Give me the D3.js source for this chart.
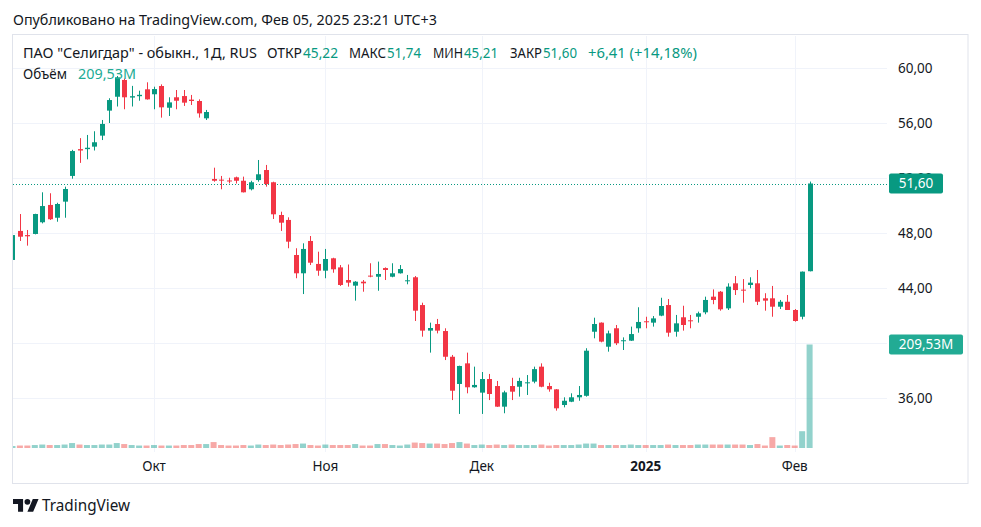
<!DOCTYPE html>
<html><head><meta charset="utf-8">
<script src="https://cdn.jsdelivr.net/npm/d3@7"></script>
<style>html,body{margin:0;padding:0;background:#fff;}svg{display:block;font-family:"Noto Sans",Roboto,sans-serif;}</style>
</head><body><svg id="c" width="981" height="527"></svg>
<script>
const dates = [
"2024-09-04","2024-09-05","2024-09-06","2024-09-09","2024-09-10","2024-09-11","2024-09-12","2024-09-13","2024-09-16","2024-09-17",
"2024-09-18","2024-09-19","2024-09-20","2024-09-23","2024-09-24","2024-09-25","2024-09-26","2024-09-27","2024-09-30",
"2024-10-01","2024-10-02","2024-10-03","2024-10-04","2024-10-07","2024-10-08","2024-10-09","2024-10-10","2024-10-11","2024-10-14",
"2024-10-15","2024-10-16","2024-10-17","2024-10-18","2024-10-21","2024-10-22","2024-10-23","2024-10-24","2024-10-25","2024-10-28",
"2024-10-29","2024-10-30","2024-10-31",
"2024-11-01","2024-11-02","2024-11-05","2024-11-06","2024-11-07","2024-11-08","2024-11-11","2024-11-12","2024-11-13","2024-11-14",
"2024-11-15","2024-11-18","2024-11-19","2024-11-20","2024-11-21","2024-11-22","2024-11-25","2024-11-26","2024-11-27","2024-11-28","2024-11-29",
"2024-12-02","2024-12-03","2024-12-04","2024-12-05","2024-12-06","2024-12-09","2024-12-10","2024-12-11","2024-12-12","2024-12-13",
"2024-12-16","2024-12-17","2024-12-18","2024-12-19","2024-12-20","2024-12-23","2024-12-24","2024-12-25","2024-12-26","2024-12-27",
"2024-12-28","2024-12-30",
"2025-01-03","2025-01-06","2025-01-08","2025-01-09","2025-01-10","2025-01-13","2025-01-14","2025-01-15","2025-01-16","2025-01-17",
"2025-01-20","2025-01-21","2025-01-22","2025-01-23","2025-01-24","2025-01-27","2025-01-28","2025-01-29","2025-01-30","2025-01-31",
"2025-02-03","2025-02-04","2025-02-05"];
const opens = [46.04,48.15,47.85,47.93,48.78,50.04,49.11,50.28,52.15,54.1,54.1,54.28,55.08,56.9,57.91,59.13,57.85,57.95,58.45,58.09,
58.69,57.11,57.87,57.96,57.7,57.6,56.34,51.93,51.88,51.82,52.05,51.8,51.18,51.85,52.58,51.69,49.31,48.95,46.4,45.07,
47.42,45.75,45.26,46.16,45.5,44.58,44.17,44.46,44.9,44.82,45.45,44.82,45.07,44.5,44.78,42.76,40.9,41.38,40.87,39.0,
37.02,38.52,36.78,36.39,37.38,36.87,35.37,36.87,36.82,37.08,37.19,38.28,36.87,36.63,35.49,35.73,36.05,36.16,40.82,41.48,
39.73,41.07,40.13,40.17,41.07,41.58,41.48,41.99,42.76,40.82,41.87,41.65,41.91,42.23,43.37,43.73,42.52,44.34,43.88,44.22,
44.34,43.25,43.25,42.64,43.0,42.4,41.91,45.22];
const highs = [48.6,49.38,48.22,49.4,50.96,50.89,50.2,51.37,54.05,54.9,55.13,55.4,56.22,57.8,59.42,59.25,58.7,58.35,58.96,58.64,
58.81,57.87,58.4,58.4,58.04,57.72,56.95,52.75,52.15,52.02,52.1,52.1,51.8,53.31,52.95,51.73,49.55,49.14,46.89,47.25,
47.78,46.64,46.84,46.2,45.67,45.71,44.5,44.58,45.8,45.92,45.5,45.8,45.67,44.95,44.87,42.93,41.48,41.75,41.07,39.13,
38.35,39.3,38.28,37.89,37.75,37.24,36.53,37.47,37.47,37.67,38.28,38.52,37.11,36.65,36.05,36.34,36.87,39.62,41.84,41.5,
40.9,41.31,40.41,41.19,42.6,41.91,41.96,43.29,43.2,42.04,42.71,42.04,42.28,43.37,43.9,43.78,44.34,44.87,44.65,44.78,
45.31,43.62,44.15,43.13,43.49,42.47,45.2,51.74];
const lows = [46.0,47.42,47.08,47.9,48.7,48.95,48.82,49.11,51.95,53.1,53.36,54.0,54.76,56.0,57.2,57.0,57.2,57.62,57.7,57.0,
56.39,56.51,57.0,57.24,57.31,56.39,56.22,51.73,51.18,51.61,51.6,50.95,51.1,51.73,51.37,49.02,48.15,46.89,44.71,43.56,
45.67,44.89,44.71,45.11,44.15,44.1,43.08,43.73,44.78,43.8,44.58,44.78,45.05,44.27,41.6,40.46,39.3,40.7,38.76,35.85,
34.84,36.34,36.75,34.84,35.85,35.35,34.89,35.85,36.1,36.22,37.07,36.78,36.46,35.08,35.32,35.7,35.8,36.1,40.34,40.05,
39.37,39.85,39.49,40.15,40.75,41.07,41.19,41.95,40.46,40.46,40.9,41.07,41.48,42.09,42.82,42.35,42.4,43.49,42.93,43.98,
42.76,42.35,41.91,42.47,42.4,41.55,41.72,45.21];
const closes = [47.85,47.73,47.76,49.38,49.96,49.0,50.11,51.2,53.96,54.0,54.2,54.6,55.93,57.67,59.32,57.87,57.95,58.05,57.72,58.47,
57.14,57.5,57.62,57.48,57.6,56.7,56.8,51.8,51.82,51.75,51.8,50.96,51.69,52.27,51.56,49.36,48.75,47.37,45.07,46.84,
45.84,45.26,46.11,45.36,44.22,44.39,44.46,44.34,44.85,45.02,45.31,45.07,45.38,44.56,42.35,40.9,41.09,40.9,39.0,36.53,
38.33,36.78,36.95,37.38,36.29,35.37,36.41,36.46,37.24,37.14,38.1,36.82,36.63,35.25,35.8,36.05,36.22,39.44,41.38,40.1,
40.7,39.98,40.2,40.65,41.53,41.52,41.79,42.69,40.75,41.43,41.31,41.6,42.16,43.13,43.13,42.45,44.1,43.85,43.82,44.39,
43.0,43.08,42.64,43.0,42.4,41.6,45.19,51.60];
const volumesM = [4,5,5,6,7,6,6,7,10,7,6,6,7,7,10,8,6,5,5,6,
5,5,5,6,6,8,8,12,6,5,5,6,5,7,6,7,6,7,8,9,
6,5,7,6,6,6,8,5,5,8,8,6,5,7,11,10,9,9,8,10,
12,9,6,7,6,7,6,7,6,6,6,7,5,6,6,6,7,9,9,6,
6,6,6,7,6,6,6,6,7,6,6,6,7,7,7,7,7,7,7,6,
8,5,22,5,6,5,34,209.53];
const priceTicks = [36,40,44,48,52,56,60];
const priceTickLabels = ["36,00","40,00","44,00","48,00","52,00","56,00","60,00"];
const tickDates = ["2024-10-01","2024-11-01","2024-12-02","2025-01-03","2025-02-03"];
const tickLabels = ["Окт","Ноя","Дек","2025","Фев"];
const lastPriceLabel = "51,60";
const lastVolumeLabel = "209,53M";

const UP = "#089981", DOWN = "#f23645";
const svg = d3.select("#c");
const plot = {l:13, r:887, t:36, b:452};

const x = d3.scalePoint().domain(dates).range([12.45, 809.6]);
const y = d3.scaleLinear().domain([36, 60]).range([398, 68]);
const yv = d3.scaleLinear().domain([0, 209.53]).range([448, 344.5]);

// outer frame
svg.append("rect").attr("x",12.5).attr("y",34.5).attr("width",955.5).attr("height",449)
  .attr("fill","none").attr("stroke","#e0e3eb");

// grid
const grid = svg.append("g").attr("stroke","#f0f3fa").attr("stroke-width",1);
grid.selectAll("line.h").data(priceTicks).join("line")
  .attr("x1",plot.l).attr("x2",plot.r)
  .attr("y1",d=>Math.round(y(d))+0.5).attr("y2",d=>Math.round(y(d))+0.5);
grid.selectAll("line.v").data(tickDates).join("line")
  .attr("x1",d=>Math.round(x(d))+0.5).attr("x2",d=>Math.round(x(d))+0.5)
  .attr("y1",plot.t).attr("y2",plot.b);

svg.append("clipPath").attr("id","clip").append("rect")
  .attr("x",plot.l).attr("y",plot.t).attr("width",plot.r-plot.l).attr("height",plot.b-plot.t);
const g = svg.append("g").attr("clip-path","url(#clip)");

const idx = d3.range(dates.length);
// volume
g.append("g").selectAll("rect").data(idx).join("rect")
  .attr("x",i=>x(dates[i])-3).attr("width",6)
  .attr("y",i=>yv(volumesM[i])).attr("height",i=>yv(0)-yv(volumesM[i]))
  .attr("fill",i=>closes[i]>=opens[i]?"rgba(38,166,154,0.5)":"rgba(239,83,80,0.5)");

// price line (dotted, crisp)
const lineY = Math.round(y(closes[closes.length-1]))+0.5;
g.append("line").attr("x1",plot.l).attr("x2",plot.r)
  .attr("y1",lineY).attr("y2",lineY)
  .attr("stroke",UP).attr("stroke-width",1).attr("stroke-dasharray","1,2")
  .attr("shape-rendering","crispEdges");

// candles
const cg = g.append("g");
cg.selectAll("line").data(idx).join("line")
  .attr("x1",i=>Math.round(x(dates[i]))+0.5).attr("x2",i=>Math.round(x(dates[i]))+0.5)
  .attr("y1",i=>y(highs[i])).attr("y2",i=>y(lows[i]))
  .attr("stroke",i=>closes[i]>=opens[i]?UP:DOWN);
cg.selectAll("rect").data(idx).join("rect")
  .attr("x",i=>Math.round(x(dates[i]))-2).attr("width",5)
  .attr("y",i=>y(Math.max(opens[i],closes[i])))
  .attr("height",i=>Math.max(1,Math.abs(y(opens[i])-y(closes[i]))))
  .attr("fill",i=>closes[i]>=opens[i]?UP:DOWN);

// price axis labels
svg.append("g").selectAll("text").data(priceTicks).join("text")
  .attr("x",898).attr("y",d=>y(d)).attr("dy","0.36em")
  .attr("font-size",13.5).attr("fill","#131722").text((d,i)=>priceTickLabels[i]);

// last price tag
const py = y(closes[closes.length-1]);
svg.append("rect").attr("x",889).attr("y",py-10).attr("width",54).attr("height",20).attr("rx",2).attr("fill",UP);
svg.append("text").attr("x",916).attr("y",py).attr("dy","0.36em").attr("text-anchor","middle")
  .attr("font-size",13.5).attr("fill","#fff").text(lastPriceLabel);
const vy = yv(volumesM[volumesM.length-1]);
svg.append("rect").attr("x",889).attr("y",vy-10).attr("width",74).attr("height",20).attr("rx",2).attr("fill","#22ab94");
svg.append("text").attr("x",926).attr("y",vy).attr("dy","0.36em").attr("text-anchor","middle")
  .attr("font-size",13.5).attr("fill","#fff").text(lastVolumeLabel);

// time axis labels
svg.append("g").selectAll("text").data(tickDates).join("text")
  .attr("x",d=>x(d)).attr("y",471).attr("text-anchor","middle")
  .attr("font-size",13.5).attr("fill","#131722")
  .attr("font-weight",(d,i)=>tickLabels[i]==="2025"?"bold":"normal")
  .text((d,i)=>tickLabels[i]);

// header
svg.append("text").attr("x",13).attr("y",25).attr("font-size",14).attr("fill","#131722")
  .attr("textLength",424).attr("lengthAdjust","spacingAndGlyphs")
  .text("Опубликовано на TradingView.com, Фев 05, 2025 23:21 UTC+3");

const legend = [
 {t:"ПАО \"Селигдар\" - обыкн., 1Д, RUS", x:23, w:234, c:"#131722"},
 {t:"ОТКР", x:267, w:35, c:"#131722"},
 {t:"45,22", x:303, w:35, c:UP},
 {t:"МАКС", x:349, w:37, c:"#131722"},
 {t:"51,74", x:387, w:34, c:UP},
 {t:"МИН", x:433, w:30, c:"#131722"},
 {t:"45,21", x:464, w:34, c:UP},
 {t:"ЗАКР", x:510, w:32, c:"#131722"},
 {t:"51,60", x:543, w:34, c:UP},
 {t:"+6,41 (+14,18%)", x:588, w:109, c:UP}
];
svg.append("g").selectAll("text").data(legend).join("text")
  .attr("x",d=>d.x).attr("y",58).attr("font-size",13.5).attr("fill",d=>d.c)
  .attr("textLength",d=>d.w).attr("lengthAdjust","spacingAndGlyphs").text(d=>d.t);
svg.append("text").attr("x",23).attr("y",79).attr("font-size",13.5).attr("fill","#131722")
  .attr("textLength",44).attr("lengthAdjust","spacingAndGlyphs").text("Объём");
svg.append("text").attr("x",78).attr("y",79).attr("font-size",13.5).attr("fill","#22ab94")
  .attr("textLength",58).attr("lengthAdjust","spacingAndGlyphs").text("209,53M");

// logo
const logo = svg.append("g").attr("transform","translate(13,496) scale(0.72)").attr("fill","#131722");
logo.append("path").attr("d","M14 22H7V11H0V4h14v18zM28 22h-8l7.5-18h8L28 22z");
logo.append("circle").attr("cx",20).attr("cy",8).attr("r",4);
svg.append("text").attr("x",42).attr("y",511).attr("font-size",15.5).attr("fill","#131722")
  .attr("textLength",88).attr("lengthAdjust","spacingAndGlyphs").text("TradingView");
</script></body></html>
